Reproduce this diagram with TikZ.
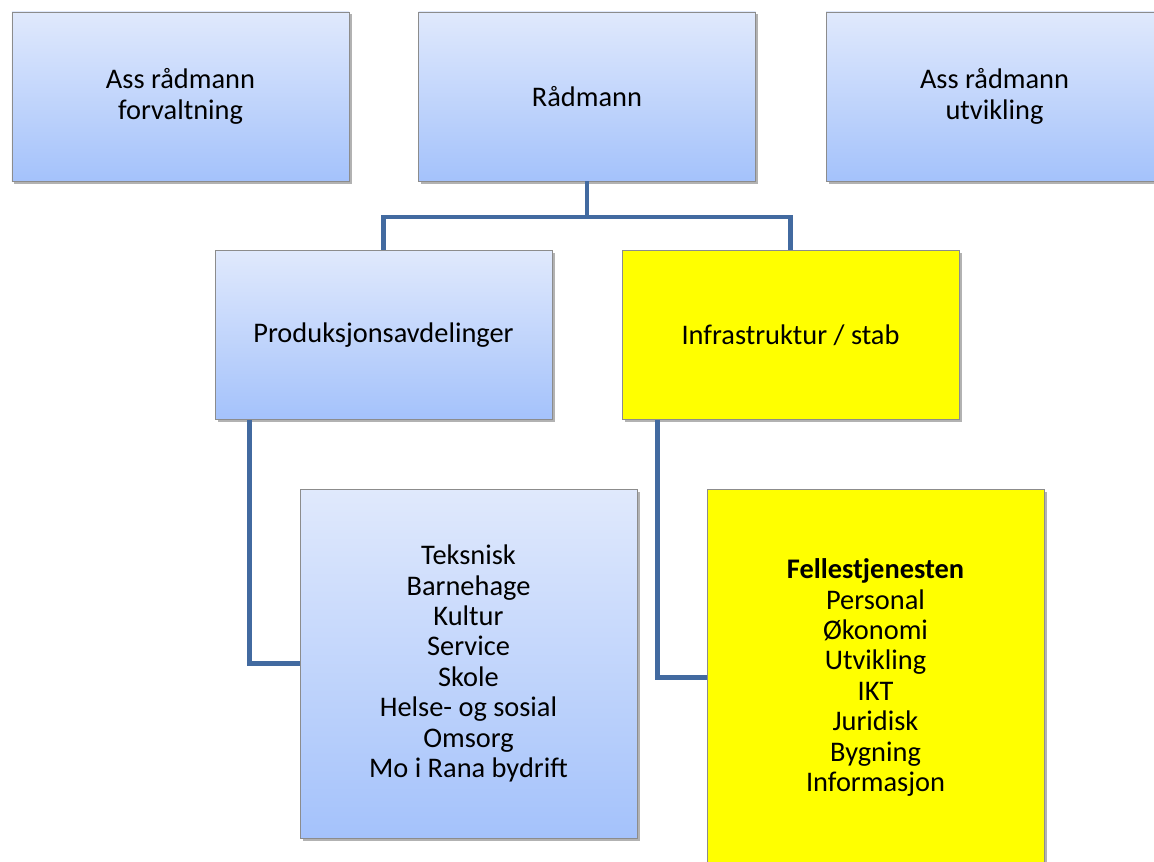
\documentclass[tikz,border=0pt]{standalone}
\usepackage{fontspec}
\setmainfont{Carlito}
\usetikzlibrary{shadows,calc}
\definecolor{boxtop}{RGB}{224,233,252}
\definecolor{boxbottom}{RGB}{164,194,251}
\definecolor{connblue}{RGB}{66,106,160}
\definecolor{boxedge}{RGB}{140,140,140}
\definecolor{hiyellow}{RGB}{255,255,0}
\begin{document}
\begin{tikzpicture}[x=1bp,y=-1bp,
  orgbox/.style={draw=boxedge,line width=0.8bp,minimum width=337bp,
    minimum height=169bp,inner sep=0pt,align=center,
    font=\fontsize{28.5}{30.5}\selectfont,
    drop shadow={shadow xshift=2.5bp,shadow yshift=-2.5bp,opacity=0.3,fill=black}},
  bluebox/.style={orgbox,top color=boxtop,bottom color=boxbottom},
  yellowbox/.style={orgbox,fill=hiyellow},
  conn/.style={draw=connblue,line width=4.5bp}]
\useasboundingbox (0,0) rectangle (1154,862);
\clip (0,0) rectangle (1154,862);
\fill[white] (0,0) rectangle (1154,862);

% top row
\node[bluebox] (assforv) at (180.5,96.5) {Ass rådmann\\forvaltning};
\node[bluebox] (rad) at (587,96.5) {Rådmann};
\node[bluebox] (assutv) at (994.5,96.5) {Ass rådmann\\utvikling};

% second row
\node[bluebox] (prod) at (383.5,335) {Produksjonsavdelinger};
\node[yellowbox] (infra) at (790.5,335) {Infrastruktur / stab};

% unit lists
\node[bluebox,minimum height=349bp] (units) at (468.5,663.5)
  {Teksnisk\\Barnehage\\Kultur\\Service\\Skole\\Helse- og sosial\\Omsorg\\Mo i Rana bydrift};
\node[yellowbox,minimum height=377bp] (felles) at (875.5,677.5)
  {\textbf{Fellestjenesten}\\Personal\\Økonomi\\Utvikling\\IKT\\Juridisk\\Bygning\\Informasjon};

% connectors
\coordinate (bus) at (587,217);
\draw[conn] (rad.south) -- (bus);
\draw[conn] (bus) -| (prod.north);
\draw[conn] (bus) -| (infra.north);
\coordinate (prodtap) at ($(prod.south west)+(35,0)$);
\coordinate (infratap) at ($(infra.south west)+(36,0)$);
\draw[conn] (prodtap) |- (units.west);
\draw[conn] (infratap) |- (felles.west);
\end{tikzpicture}
\end{document}
